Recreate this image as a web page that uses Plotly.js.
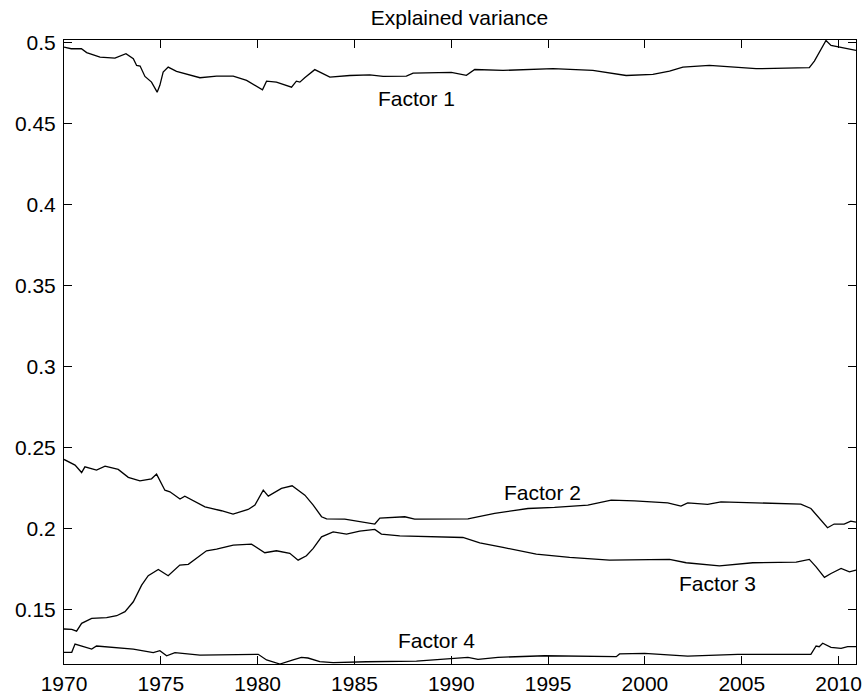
<!DOCTYPE html>
<html>
<head>
<meta charset="utf-8">
<script src="https://cdn.plot.ly/plotly-3.0.1.min.js"></script>
<style>
  body { margin: 0; background: #fff; }
  #chart { width: 867px; height: 698px; }
</style>
</head>
<body>
<div id="chart"></div>
<script>
// values
const f1_year = [1970.0, 1970.37, 1970.9, 1971.17, 1971.86, 1972.63, 1973.2, 1973.58, 1973.75, 1973.93,
  1974.18, 1974.52, 1974.81, 1974.95, 1975.12, 1975.38, 1975.81, 1977.02, 1977.88, 1978.74,
  1979.43, 1980.25, 1980.46, 1980.97, 1981.75, 1982.0, 1982.18, 1982.43, 1982.95, 1983.73,
  1984.76, 1985.79, 1986.48, 1987.68, 1988.03, 1990.0, 1990.78, 1991.21, 1992.67, 1995.25,
  1997.31, 1999.03, 2000.41, 2001.27, 2001.96, 2003.33, 2005.74, 2008.49, 2008.75, 2009.35,
  2009.61, 2010.04, 2010.9];
const f1_val = [0.4971, 0.4961, 0.4961, 0.4937, 0.4909, 0.4903, 0.4930, 0.4899, 0.4858, 0.4854,
  0.4790, 0.4755, 0.4693, 0.4735, 0.4817, 0.4848, 0.4821, 0.4782, 0.4792, 0.4792,
  0.4766, 0.4708, 0.4761, 0.4755, 0.4724, 0.4761, 0.4755, 0.4782, 0.4832, 0.4786,
  0.4796, 0.4800, 0.4790, 0.4792, 0.4810, 0.4815, 0.4797, 0.4833, 0.4827, 0.4838,
  0.4827, 0.4796, 0.4803, 0.4823, 0.4848, 0.4858, 0.4838, 0.4844, 0.4885, 0.5012,
  0.4981, 0.4971, 0.4951];

const f2_year = [1970.0, 1970.57, 1970.91, 1971.08, 1971.68, 1972.12, 1972.8, 1973.32, 1973.92, 1974.52,
  1974.78, 1975.21, 1975.47, 1975.99, 1976.24, 1977.28, 1978.13, 1978.73, 1979.51, 1979.86,
  1980.29, 1980.55, 1981.23, 1981.78, 1982.44, 1982.87, 1983.3, 1983.56, 1984.5, 1986.05,
  1986.31, 1987.6, 1988.11, 1990.17, 1990.86, 1992.24, 1993.96, 1995.33, 1997.05, 1998.26,
  1999.46, 2001.18, 2001.86, 2002.21, 2003.24, 2003.93, 2006.51, 2008.05, 2008.57, 2009.08,
  2009.43, 2009.77, 2010.29, 2010.63, 2010.9];
const f2_val = [0.2426, 0.2391, 0.2345, 0.2380, 0.2360, 0.2384, 0.2364, 0.2315, 0.2294, 0.2306,
  0.2335, 0.2236, 0.2226, 0.2181, 0.2199, 0.2133, 0.2109, 0.2088, 0.2117, 0.2144,
  0.2236, 0.2199, 0.2247, 0.2263, 0.2205, 0.2144, 0.2072, 0.2059, 0.2057, 0.2027,
  0.2064, 0.2072, 0.2057, 0.2056, 0.2059, 0.2093, 0.2123, 0.2130, 0.2144, 0.2175,
  0.2170, 0.2158, 0.2138, 0.2158, 0.2148, 0.2164, 0.2158, 0.2150, 0.2123, 0.2051,
  0.2004, 0.2027, 0.2027, 0.2045, 0.2039];

const f3_year = [1970.0, 1970.4, 1970.65, 1970.91, 1971.43, 1972.2, 1972.72, 1973.15, 1973.58, 1973.75,
  1974.01, 1974.35, 1974.87, 1975.38, 1975.98, 1976.42, 1977.36, 1977.88, 1978.74, 1979.68,
  1980.37, 1980.97, 1981.66, 1982.09, 1982.52, 1982.87, 1983.3, 1983.9, 1984.59, 1985.27,
  1986.05, 1986.39, 1987.34, 1990.6, 1991.47, 1992.67, 1994.39, 1996.11, 1998.17, 2001.27,
  2002.13, 2003.85, 2005.57, 2007.81, 2008.49, 2008.84, 2009.27, 2009.61, 2010.13, 2010.56,
  2010.9];
const f3_val = [0.1379, 0.1377, 0.1366, 0.1414, 0.1445, 0.1449, 0.1461, 0.1486, 0.1547, 0.1589,
  0.1650, 0.1708, 0.1747, 0.1708, 0.1774, 0.1778, 0.1862, 0.1872, 0.1897, 0.1903,
  0.1850, 0.1862, 0.1846, 0.1804, 0.1831, 0.1877, 0.1948, 0.1979, 0.1965, 0.1983,
  0.1994, 0.1965, 0.1954, 0.1944, 0.1911, 0.1883, 0.1841, 0.1821, 0.1804, 0.1809,
  0.1788, 0.1769, 0.1788, 0.1792, 0.1809, 0.1763, 0.1698, 0.1722, 0.1753, 0.1732,
  0.1743];

const f4_year = [1970.0, 1970.4, 1970.57, 1971.0, 1971.43, 1971.68, 1972.54, 1973.58, 1974.61, 1974.95,
  1975.3, 1975.73, 1977.02, 1978.74, 1980.03, 1980.46, 1981.15, 1981.83, 1982.26, 1982.6,
  1983.21, 1983.9, 1985.62, 1988.2, 1989.4, 1990.86, 1991.38, 1992.41, 1994.82, 1998.52,
  1998.69, 1999.98, 2002.21, 2004.79, 2008.57, 2008.84, 2009.0, 2009.18, 2009.61, 2010.13,
  2010.47, 2010.9];
const f4_val = [0.1235, 0.1235, 0.1286, 0.1270, 0.1255, 0.1274, 0.1266, 0.1255, 0.1233, 0.1245,
  0.1214, 0.1233, 0.1218, 0.1223, 0.1223, 0.1188, 0.1163, 0.1188, 0.1204, 0.1200,
  0.1177, 0.1171, 0.1177, 0.1181, 0.1192, 0.1204, 0.1192, 0.1204, 0.1214, 0.1208,
  0.1225, 0.1229, 0.1212, 0.1223, 0.1223, 0.1274, 0.1270, 0.1291, 0.1266, 0.1260,
  0.1270, 0.1270];

const label_text = ["Factor 1", "Factor 2", "Factor 3", "Factor 4"];
const label_x = [1988.2, 1994.7, 2003.75, 1989.25];
const label_y = [0.4654, 0.2220, 0.1660, 0.1311];

const line_style = { color: "#000", width: 1.3 };

function make_trace(x, y) {
    return { x: x, y: y, type: "scatter", mode: "lines", line: line_style, hoverinfo: "skip" };
}

var data = [
    make_trace(f1_year, f1_val),
    make_trace(f2_year, f2_val),
    make_trace(f3_year, f3_val),
    make_trace(f4_year, f4_val)
];

var annotations = [];
for (let i = 0; i < label_text.length; i++) {
    annotations.push({
        x: label_x[i], y: label_y[i], text: label_text[i],
        showarrow: false, font: { size: 21, color: "#000" }
    });
}

var axis_common = {
    showgrid: false, zeroline: false,
    showline: true, linecolor: "#000", linewidth: 1,
    mirror: "ticks", ticks: "inside", ticklen: 8, tickcolor: "#000", tickwidth: 1,
    tickfont: { size: 21, color: "#000" }
};

var layout = {
    width: 867, height: 698,
    margin: { l: 64, r: 11, t: 40, b: 34 },
    paper_bgcolor: "#fff", plot_bgcolor: "#fff",
    font: { family: "Liberation Sans, Arial, sans-serif", color: "#000" },
    showlegend: false,
    title: { text: "Explained variance", font: { size: 21 }, x: 0.53, xanchor: "center", y: 0.975, yanchor: "middle" },
    xaxis: Object.assign({}, axis_common, {
        range: [1970, 2010.9], tickvals: [1970, 1975, 1980, 1985, 1990, 1995, 2000, 2005, 2010],
        ticklabelstandoff: 1
    }),
    yaxis: Object.assign({}, axis_common, {
        range: [0.1163, 0.5015], tickvals: [0.15, 0.2, 0.25, 0.3, 0.35, 0.4, 0.45, 0.5],
        ticktext: ["0.15", "0.2", "0.25", "0.3", "0.35", "0.4", "0.45", "0.5"],
        ticklabelstandoff: 3
    }),
    annotations: annotations
};

Plotly.newPlot("chart", data, layout, { staticPlot: true, responsive: false });
</script>
</body>
</html>
